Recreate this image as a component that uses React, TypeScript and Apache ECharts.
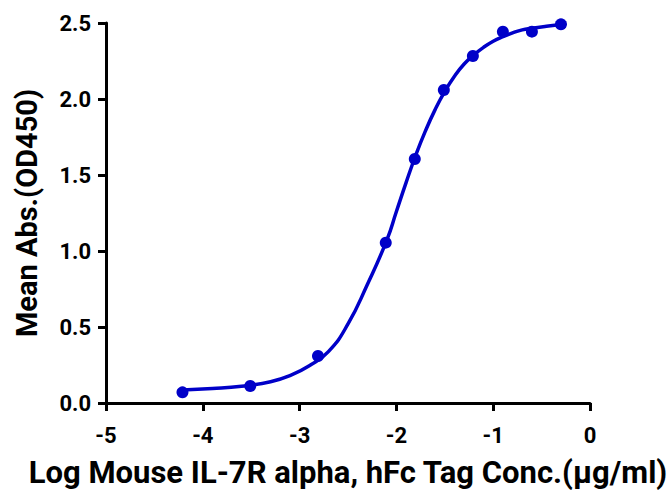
import React, { useEffect, useRef } from "react";
import * as echarts from "echarts";

const pointX = [-4.21, -3.51, -2.81, -2.11, -1.81, -1.51, -1.21, -0.9, -0.6, -0.3];
const pointY = [0.07, 0.112, 0.309, 1.055, 1.605, 2.059, 2.283, 2.443, 2.443, 2.491];

const curveX = [-4.21, -3.9, -3.6, -3.3, -3.1, -2.9, -2.7, -2.5, -2.3, -2.1, -2.0, -1.9, -1.8, -1.7, -1.6, -1.5, -1.4, -1.3, -1.2, -1.1, -1.0, -0.9, -0.8, -0.7, -0.6, -0.45, -0.3];
const curveY = [0.086, 0.095, 0.11, 0.14, 0.18, 0.245, 0.34, 0.52, 0.78, 1.07, 1.26, 1.45, 1.63, 1.79, 1.93, 2.05, 2.15, 2.23, 2.29, 2.34, 2.38, 2.41, 2.435, 2.455, 2.465, 2.478, 2.49];

const xTitle = "Log Mouse IL-7R alpha, hFc Tag Conc.(µg/ml)";
const yTitle = "Mean Abs.(OD450)";

const BLUE = "#0000c8";
const FONT = "Roboto";

export default function App() {
  const ref = useRef<HTMLDivElement>(null);
  useEffect(() => {
    document.body.style.margin = "0";
    if (!ref.current) return;
    const chart = echarts.init(ref.current, undefined, { renderer: "svg" });
    chart.setOption({
      animation: false,
      backgroundColor: "#ffffff",
      grid: { left: 106, right: 82, top: 23, bottom: 96 },
      xAxis: {
        type: "value",
        min: -5,
        max: 0,
        interval: 1,
        name: xTitle,
        nameLocation: "middle",
        nameGap: 54,
        nameTextStyle: { fontFamily: FONT, fontWeight: 700, fontSize: 31, color: "#000" },
        axisLine: { show: true, onZero: false, lineStyle: { color: "#000", width: 3 } },
        axisTick: { show: true, length: 8, lineStyle: { color: "#000", width: 3 } },
        axisLabel: { margin: 21, fontFamily: FONT, fontWeight: 700, fontSize: 22, color: "#000" },
        splitLine: { show: false },
      },
      yAxis: {
        type: "value",
        min: 0,
        max: 2.5,
        interval: 0.5,
        name: yTitle,
        nameLocation: "middle",
        nameGap: 65,
        nameTextStyle: { fontFamily: FONT, fontWeight: 700, fontSize: 29, color: "#000" },
        axisLine: { show: true, onZero: false, lineStyle: { color: "#000", width: 3 } },
        axisTick: { show: true, length: 8, lineStyle: { color: "#000", width: 3 } },
        axisLabel: {
          margin: 15,
          fontFamily: FONT,
          fontWeight: 700,
          fontSize: 22,
          color: "#000",
          formatter: (v: number) => v.toFixed(1),
        },
        splitLine: { show: false },
      },
      series: [
        {
          type: "line",
          data: curveX.map((x, i) => [x, curveY[i]]),
          smooth: true,
          showSymbol: false,
          lineStyle: { color: BLUE, width: 3.5 },
          z: 2,
        },
        {
          type: "scatter",
          data: pointX.map((x, i) => [x, pointY[i]]),
          symbol: "circle",
          symbolSize: 12,
          itemStyle: { color: BLUE, opacity: 1 },
          z: 3,
        },
      ],
    });
    return () => chart.dispose();
  }, []);
  return <div ref={ref} style={{ width: 672, height: 499 }} />;
}
